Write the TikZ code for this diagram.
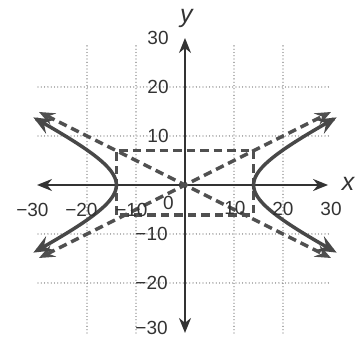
\documentclass[tikz,border=0pt]{standalone}
\usepackage{fontspec}
\setmainfont{Liberation Sans}
\usetikzlibrary{arrows.meta}
\definecolor{axiscol}{HTML}{333333}
\definecolor{curvecol}{HTML}{484848}
\definecolor{dashcol}{HTML}{505050}
\definecolor{gridcol}{HTML}{6E6E6E}
\begin{document}
\begin{tikzpicture}[x=4.9pt,y=4.9pt,
  gridline/.style={gridcol, line width=1.3pt, line cap=round, dash pattern=on 0pt off 3.3pt},
  axisline/.style={axiscol, line width=1.9pt, {Stealth[length=15pt,width=12pt]}-{Stealth[length=15pt,width=12pt]}},
  curveline/.style={curvecol, line width=3.5pt, {Stealth[length=19pt,width=16pt,inset=7pt]}-{Stealth[length=19pt,width=16pt,inset=7pt]}},
  dashline/.style={dashcol, line width=3.4pt, dash pattern=on 8.5pt off 5pt},
  dasharrow/.style={dashline, {Stealth[length=16pt,width=13pt,inset=6pt]}-{Stealth[length=16pt,width=13pt,inset=6pt]}},
  numlabel/.style={inner sep=0pt, text=axiscol, font=\fontsize{19}{19}\selectfont},
  axlabel/.style={inner sep=0pt, text=axiscol, font=\fontsize{25}{25}\selectfont\itshape}]
\useasboundingbox (-37.755,-31.429) rectangle (35.51,37.755);
% grid
\foreach \v in {-20,-10,10,20} {
  \draw[gridline] (\v,-30.2) -- (\v,29);
  \draw[gridline] (-30,\v) -- (29.3,\v);
}
% axes
\coordinate (xl) at (-30.2,0);
\coordinate (xr) at (29.2,0);
\coordinate (yb) at (0,-30.2);
\coordinate (yt) at (0,30);
\draw[axisline] (xl) -- (xr);
\draw[axisline] (yb) -- (yt);
% box and asymptotes
\coordinate (bl) at (-14,-6.1);
\coordinate (tr) at (14,7.1);
\draw[dashline] (bl) rectangle (tr);
\coordinate (a1) at (-29.8,-14.9);
\coordinate (a2) at (29.8,14.9);
\coordinate (a3) at (-29.8,14.9);
\coordinate (a4) at (29.8,-14.9);
\draw[dasharrow] (a1) -- (a2);
\draw[dasharrow] (a3) -- (a4);
% hyperbola
\draw[curveline] plot[domain=-13.8:13.8, samples=60, smooth, variable=\t] ({14*sqrt(1+\t*\t/49)},\t);
\draw[curveline] plot[domain=-13.8:13.8, samples=60, smooth, variable=\t] ({-14*sqrt(1+\t*\t/49)},\t);
% y labels
\node[numlabel, anchor=east] (ly30) at (-3.3,30) {30};
\node[numlabel, anchor=east] (ly20) at (-3.3,20) {20};
\node[numlabel, anchor=east] (ly10) at (-3.3,10) {10};
\node[numlabel, anchor=east] (lym10) at (-3.5,-10) {−10};
\node[numlabel, anchor=east] (lym20) at (-3.5,-20) {−20};
\node[numlabel, anchor=east] (lym30) at (-3.5,-29.2) {−30};
% x labels
\node[numlabel] (lxm30) at (-30,-5.1) {\llap{−}30};
\node[numlabel] (lxm20) at (-20,-5.1) {\llap{−}20};
\node[numlabel] (lxm10) at (-9.8,-5.1) {\llap{−}10};
\node[numlabel] (lx0) at (-3.4,-3.7) {0};
\node[numlabel] (lx10) at (10.2,-4.6) {10};
\node[numlabel] (lx20) at (20,-4.9) {20};
\node[numlabel] (lx30) at (29.8,-4.9) {30};
% axis names
\node[axlabel] (lx) at (33.3,0.3) {x};
\node[axlabel] (ly) at (0.3,34) {y};
\end{tikzpicture}
\end{document}
